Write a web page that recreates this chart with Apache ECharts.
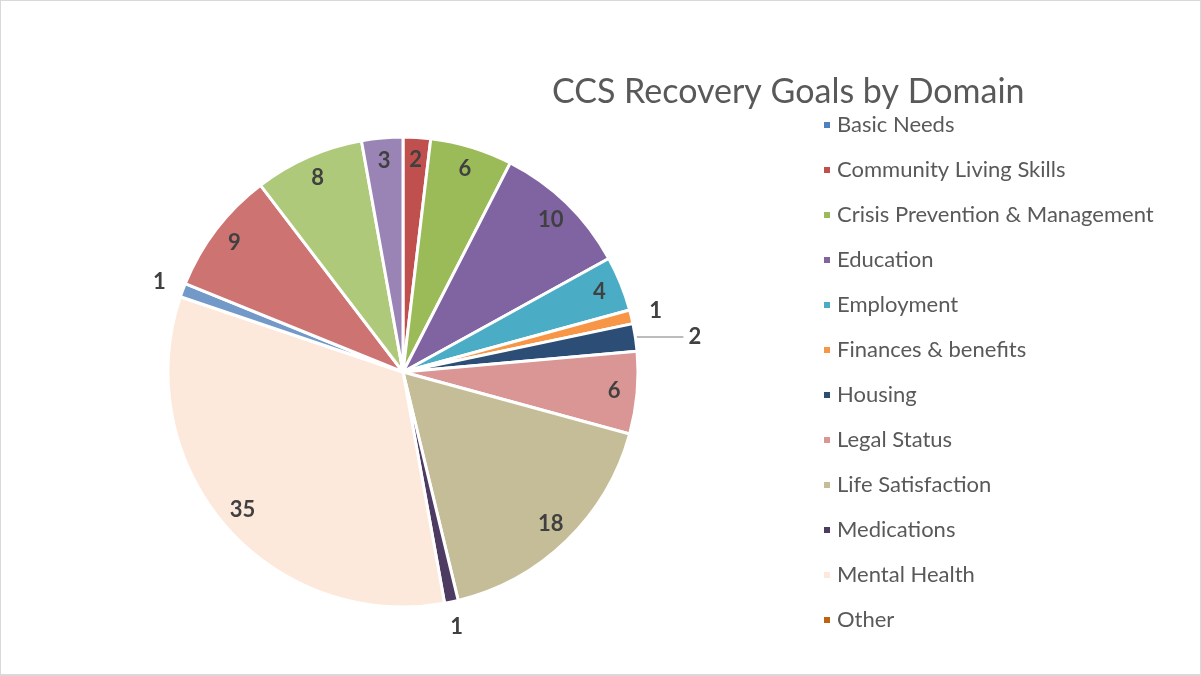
<!DOCTYPE html>
<html>
<head>
<meta charset="utf-8">
<title>CCS Recovery Goals by Domain</title>
<script src="https://cdn.jsdelivr.net/npm/echarts@6/dist/echarts.min.js"></script>
<style>
  html, body { margin: 0; padding: 0; background: #ffffff; }
  #frame { width: 1201px; height: 676px; box-sizing: border-box; border: 1px solid #d9d9d9; border-bottom-width: 2px; }
  #chart { width: 1199px; height: 673px; }
</style>
</head>
<body>
<div id="frame"><div id="chart"></div></div>
<script>
// Recovery goal domains, in the order they are stored (pie runs clockwise from 12 o'clock)
const domains = [
  'Basic Needs',
  'Community Living Skills',
  'Crisis Prevention & Management',
  'Education',
  'Employment',
  'Finances & benefits',
  'Housing',
  'Legal Status',
  'Life Satisfaction',
  'Medications',
  'Mental Health',
  'Other',
  'Physical Health',
  'Recreation',
  'Relationships',
  'Substance Use'
];

// Number of goals per domain
const goalCounts = [0, 2, 6, 10, 4, 1, 2, 6, 18, 1, 35, 0, 1, 9, 8, 3];

// Slice fill colours, one per domain
const sliceColors = [
  '#4f81bd', '#c0504d', '#9bbb59', '#8064a2', '#4bacc6', '#f79646',
  '#2c4d75', '#d99694', '#c4bd97', '#4d3b62', '#fde9db', '#c0620f',
  '#7399c8', '#cd7371', '#afc97a', '#9a84b6'
];

// Only the first twelve domains fit in the legend column
const legendNames = domains.slice(0, 12);

// Thin slices get their count just outside the rim; Housing gets a leader line
const rimLabelled = ['Finances & benefits', 'Medications', 'Physical Health'];
const leaderLabelled = ['Housing'];

const FONT = 'Lato, "Open Sans", sans-serif';
const CENTER = [402, 371];
const RADIUS = 235;

const countLabel = {
  formatter: '{c}',
  color: '#404040',
  fontFamily: FONT,
  fontSize: 22,
  fontWeight: 'bold'
};

// Filled slices (plus the single leader-line label)
const sliceData = domains.map((name, i) => {
  const withLeader = leaderLabelled.includes(name);
  return {
    name: name,
    value: goalCounts[i],
    itemStyle: { color: sliceColors[i] },
    label: withLeader
      ? Object.assign({ show: true, position: 'outside', padding: [0, 0, 14, 0] }, countLabel)
      : { show: false },
    labelLine: withLeader
      ? { show: true, length: 2, length2: 46, lineStyle: { color: '#a6a6a6', width: 1.5 } }
      : { show: false }
  };
});

// Transparent ring whose midline carries the counts printed inside the slices
const innerLabelData = domains.map((name, i) => ({
  name: name,
  value: goalCounts[i],
  label: {
    show: goalCounts[i] > 0 && !rimLabelled.includes(name) && !leaderLabelled.includes(name)
  }
}));

// Transparent ring just outside the pie carrying the counts of thin slices
const rimLabelData = domains.map((name, i) => ({
  name: name,
  value: goalCounts[i],
  label: { show: goalCounts[i] > 0 && rimLabelled.includes(name) }
}));

const ghostRing = (radius, data) => ({
  type: 'pie',
  center: CENTER,
  radius: radius,
  startAngle: 90,
  clockwise: true,
  silent: true,
  avoidLabelOverlap: false,
  itemStyle: { color: 'rgba(0,0,0,0)', borderWidth: 0 },
  label: Object.assign({ position: 'inside' }, countLabel),
  labelLine: { show: false },
  emphasis: { disabled: true },
  data: data,
  z: 3
});

const chart = echarts.init(document.getElementById('chart'), null, { renderer: 'canvas' });

chart.setOption({
  animation: false,
  backgroundColor: '#ffffff',
  title: {
    text: 'CCS Recovery Goals by Domain',
    left: 551,
    top: 71,
    padding: 0,
    textStyle: {
      color: '#595959',
      fontFamily: FONT,
      fontSize: 34,
      fontWeight: 'normal',
      lineHeight: 40
    }
  },
  legend: {
    data: legendNames,
    orient: 'vertical',
    left: 821,
    top: 113,
    padding: 0,
    itemWidth: 8,
    itemHeight: 8,
    itemGap: 23,
    icon: 'rect',
    selectedMode: false,
    textStyle: {
      color: '#595959',
      fontFamily: FONT,
      fontSize: 22,
      lineHeight: 22,
      padding: [0, 0, 0, 1]
    }
  },
  series: [
    {
      type: 'pie',
      center: CENTER,
      radius: [0, RADIUS],
      startAngle: 90,
      clockwise: true,
      avoidLabelOverlap: false,
      itemStyle: { borderColor: '#ffffff', borderWidth: 3 },
      emphasis: { disabled: true },
      data: sliceData,
      z: 2
    },
    ghostRing([RADIUS - 52, RADIUS], innerLabelData),
    ghostRing([RADIUS + 8, RADIUS + 36], rimLabelData)
  ]
});
</script>
</body>
</html>
